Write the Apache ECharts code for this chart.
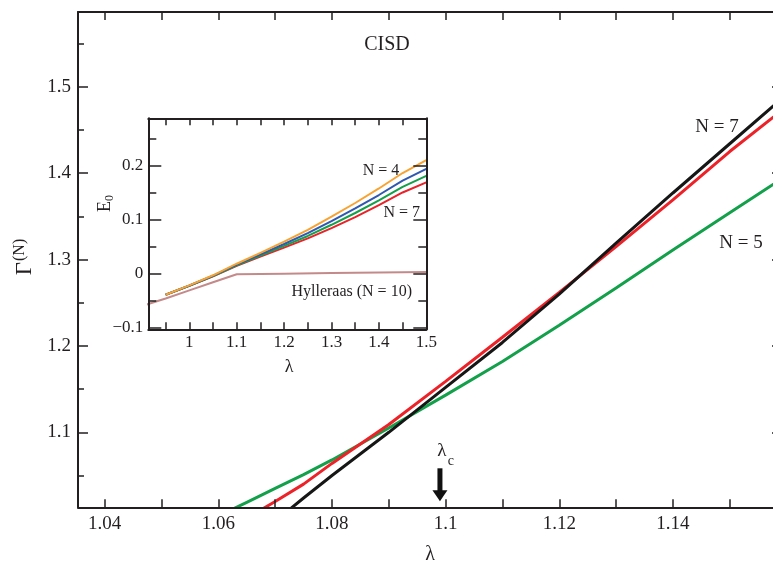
<!DOCTYPE html>
<html>
<head>
<meta charset="utf-8">
<script src="https://cdn.jsdelivr.net/npm/echarts@6/dist/echarts.min.js"></script>
<style>
  html, body { margin: 0; padding: 0; background: #fff; }
  #chart { width: 773px; height: 564px; }
</style>
</head>
<body>
<div id="chart"></div>
<script>
// Main panel: Γ(N) against λ from CISD
const mainLambda = [1.06, 1.065, 1.07, 1.075, 1.08, 1.09, 1.10, 1.11, 1.12, 1.13, 1.14, 1.15, 1.16];
const gammaN7 = [0.944, 0.971, 0.997, 1.024, 1.050, 1.100, 1.152, 1.204, 1.260, 1.319, 1.377, 1.434, 1.491];
const gammaN6 = [0.981, 1.0005, 1.020, 1.040, 1.064, 1.109, 1.159, 1.210, 1.262, 1.315, 1.369, 1.425, 1.477];
const gammaN5 = [1.003, 1.019, 1.035, 1.051, 1.068, 1.105, 1.143, 1.182, 1.224, 1.267, 1.311, 1.354, 1.397];

// Inset: ground-state energy E0 against λ
const insetLambda = [0.95, 1.0, 1.05, 1.1, 1.15, 1.2, 1.25, 1.3, 1.35, 1.4, 1.45, 1.5];
const e0N4 = [-0.039, -0.0216, -0.003, 0.0184, 0.0385, 0.0592, 0.0812, 0.1054, 0.1308, 0.1577, 0.1863, 0.210];
const e0N5 = [-0.039, -0.022, -0.0038, 0.0168, 0.0358, 0.0549, 0.0750, 0.0972, 0.1207, 0.1456, 0.1723, 0.194];
const e0N6 = [-0.039, -0.0223, -0.0044, 0.0156, 0.0335, 0.0514, 0.0698, 0.0905, 0.1123, 0.1357, 0.1607, 0.181];
const e0N7 = [-0.039, -0.0226, -0.005, 0.0144, 0.0315, 0.0482, 0.0652, 0.0844, 0.1048, 0.1267, 0.1503, 0.169];
const hyllLambda = [0.91, 0.95, 1.0, 1.05, 1.1, 1.2, 1.3, 1.4, 1.5];
const e0Hyll = [-0.057, -0.046, -0.031, -0.016, -0.001, 0.000, 0.001, 0.002, 0.003];

// Critical λ marked with an arrow
const lambdaC = 1.099;

// Tick positions and labels
const mainXTicks = [1.04, 1.05, 1.06, 1.07, 1.08, 1.09, 1.10, 1.11, 1.12, 1.13, 1.14, 1.15];
const mainXLabels = [1.04, 1.06, 1.08, 1.10, 1.12, 1.14];
const mainYMajor = [1.1, 1.2, 1.3, 1.4, 1.5];
const mainYMinor = [1.05, 1.15, 1.25, 1.35, 1.45, 1.55];
const insetXTicks = [0.95, 1.0, 1.05, 1.1, 1.15, 1.2, 1.25, 1.3, 1.35, 1.4, 1.45, 1.5];
const insetXLabels = [1.0, 1.1, 1.2, 1.3, 1.4, 1.5];
const insetYMajor = [-0.1, 0, 0.1, 0.2];
const insetYMinor = [-0.05, 0.05, 0.15, 0.25];

const FONT = '"Liberation Serif", "DejaVu Serif", serif';
const INK = '#231f20';

function pairs(xs, ys) { return xs.map((x, i) => [x, ys[i]]); }
function fmt(v) {
  const s = String(+Number(v).toFixed(4));
  return s.replace('-', '\u2212');
}

function axisDef(grid, pos, min, max, ticks, labels, tickLen, fontSize, margin, line) {
  return {
    type: 'value', gridIndex: grid, position: pos, min: min, max: max, z: 10,
    axisLine: { show: line, onZero: false, lineStyle: { color: INK, width: 2 } },
    axisTick: { show: true, inside: true, length: tickLen, customValues: ticks, lineStyle: { color: INK, width: 1.5 } },
    axisLabel: labels ? { show: true, customValues: labels, formatter: fmt, color: INK, fontFamily: FONT, fontSize: fontSize, margin: margin } : { show: false },
    splitLine: { show: false }
  };
}

const MX = [1.0353, 1.1592], MY = [1.0132, 1.5865];
const IX = [0.9134, 1.5], IY = [-0.103, 0.2876];

const chart = echarts.init(document.getElementById('chart'), null, { renderer: 'canvas' });

const option = {
  animation: false,
  backgroundColor: '#fff',
  grid: [
    { left: 78, top: 12, width: 704, height: 495.3, outerBoundsMode: 'none', containLabel: false },
    { left: 148.3, top: 118.3, width: 278, height: 211, outerBoundsMode: 'none', containLabel: false }
  ],
  xAxis: [
    axisDef(0, 'bottom', MX[0], MX[1], mainXTicks, mainXLabels, 8, 19, 7, true),
    axisDef(0, 'top', MX[0], MX[1], mainXTicks, null, 8, 19, 7, true),
    axisDef(1, 'bottom', IX[0], IX[1], insetXTicks, insetXLabels, 7, 17, 5, true),
    axisDef(1, 'top', IX[0], IX[1], insetXTicks, null, 7, 17, 5, true)
  ],
  yAxis: [
    axisDef(0, 'left', MY[0], MY[1], mainYMajor, mainYMajor, 10, 19, 7, true),
    axisDef(0, 'left', MY[0], MY[1], mainYMinor, null, 6, 19, 7, false),
    axisDef(0, 'right', MY[0], MY[1], mainYMajor, null, 10, 19, 7, true),
    axisDef(0, 'right', MY[0], MY[1], mainYMinor, null, 6, 19, 7, false),
    axisDef(1, 'left', IY[0], IY[1], insetYMajor, insetYMajor, 13, 17, 5, true),
    axisDef(1, 'left', IY[0], IY[1], insetYMinor, null, 8, 17, 5, false),
    axisDef(1, 'right', IY[0], IY[1], insetYMajor, null, 13, 17, 5, true),
    axisDef(1, 'right', IY[0], IY[1], insetYMinor, null, 8, 17, 5, false)
  ],
  series: [
    { name: 'N = 5', type: 'line', xAxisIndex: 0, yAxisIndex: 0, data: pairs(mainLambda, gammaN5),
      showSymbol: false, clip: true, lineStyle: { color: '#12a04a', width: 3 } },
    { name: 'N = 6', type: 'line', xAxisIndex: 0, yAxisIndex: 0, data: pairs(mainLambda, gammaN6),
      showSymbol: false, clip: true, lineStyle: { color: '#ec2228', width: 3 } },
    { name: 'N = 7', type: 'line', xAxisIndex: 0, yAxisIndex: 0, data: pairs(mainLambda, gammaN7),
      showSymbol: false, clip: true, lineStyle: { color: '#161616', width: 3 } },

    { name: 'Hylleraas (N = 10)', type: 'line', xAxisIndex: 2, yAxisIndex: 4, data: pairs(hyllLambda, e0Hyll),
      showSymbol: false, clip: true, lineStyle: { color: '#c48a8a', width: 2 } },
    { name: 'E0 N = 7', type: 'line', xAxisIndex: 2, yAxisIndex: 4, data: pairs(insetLambda, e0N7),
      showSymbol: false, clip: true, lineStyle: { color: '#e8232a', width: 2 } },
    { name: 'E0 N = 6', type: 'line', xAxisIndex: 2, yAxisIndex: 4, data: pairs(insetLambda, e0N6),
      showSymbol: false, clip: true, lineStyle: { color: '#14a04b', width: 2 } },
    { name: 'E0 N = 5', type: 'line', xAxisIndex: 2, yAxisIndex: 4, data: pairs(insetLambda, e0N5),
      showSymbol: false, clip: true, lineStyle: { color: '#2f58b0', width: 2 } },
    { name: 'E0 N = 4', type: 'line', xAxisIndex: 2, yAxisIndex: 4, data: pairs(insetLambda, e0N4),
      showSymbol: false, clip: true, lineStyle: { color: '#f8a331', width: 2 } }
  ]
};
chart.setOption(option);

function txt(text, x, y, size, extra) {
  return Object.assign({
    type: 'text', x: x, y: y, z: 20,
    style: { text: text, fill: INK, font: size + 'px ' + FONT, align: 'center', verticalAlign: 'middle' }
  }, extra || {});
}

// Arrow at λc, standing on the bottom axis
const base = chart.convertToPixel({ gridIndex: 0 }, [lambdaC, MY[0]]);
const ax = base[0], tipY = base[1] - 6;

chart.setOption({
  graphic: [
    txt('CISD', 387, 45, 20),
    txt('N = 7', 717, 127, 19),
    txt('N = 5', 741, 243, 19),
    txt('\u03bb', 430, 555, 20),
    txt('N = 4', 381, 171, 16),
    txt('N = 7', 401.7, 213, 16),
    txt('Hylleraas (N = 10)', 351.7, 292, 16),
    txt('\u03bb', 289, 367, 18),
    {
      type: 'group', x: 25, y: 258, rotation: Math.PI / 2, z: 20,
      children: [
        { type: 'text', x: -4, y: 0, style: { text: '\u0393', fill: INK, font: '23px ' + FONT, align: 'right', verticalAlign: 'middle' } },
        { type: 'text', x: -3, y: -5, style: { text: '(N)', fill: INK, font: '16px ' + FONT, align: 'left', verticalAlign: 'middle' } }
      ]
    },
    {
      type: 'group', x: 105, y: 204, rotation: Math.PI / 2, z: 20,
      children: [
        { type: 'text', x: 3, y: 0, style: { text: 'E', fill: INK, font: '18px ' + FONT, align: 'right', verticalAlign: 'middle' } },
        { type: 'text', x: 3, y: 5, style: { text: '0', fill: INK, font: '12px ' + FONT, align: 'left', verticalAlign: 'middle' } }
      ]
    },
    txt('\u03bb', ax + 2, 451, 19),
    txt('c', ax + 11, 461, 14),
    { type: 'rect', z: 20, shape: { x: ax - 2.5, y: tipY - 33, width: 5, height: 23 }, style: { fill: '#111' } },
    { type: 'polygon', z: 20, shape: { points: [[ax - 7.5, tipY - 11], [ax + 7.5, tipY - 11], [ax, tipY]] }, style: { fill: '#111' } }
  ]
});
</script>
</body>
</html>
